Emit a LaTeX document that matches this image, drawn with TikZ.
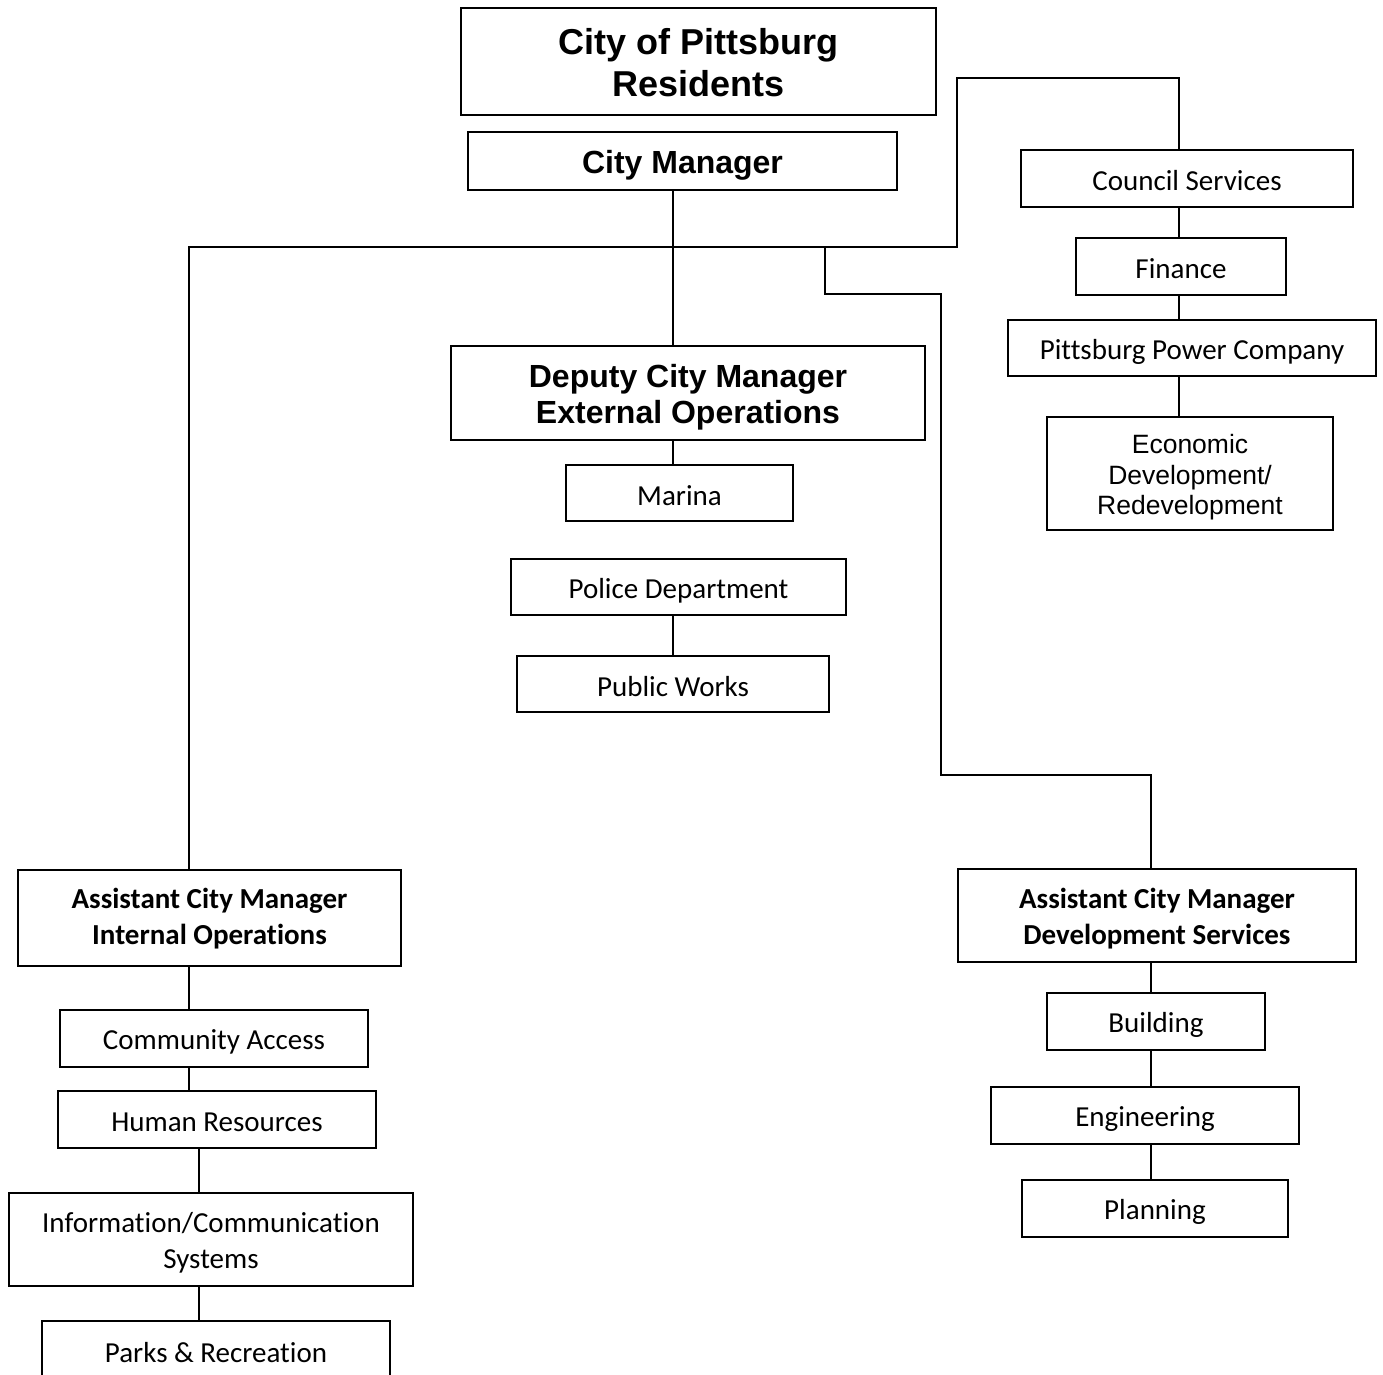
\documentclass[tikz,border=0pt]{standalone}
\usepackage{fontspec}
\setmainfont{Carlito}[Ligatures=NoCommon]
\newfontfamily\arialf{Liberation Sans}
\newcommand\droptext[2]{\raisebox{-#1pt}[\height][\depth]{\begin{tabular}{@{}c@{}}#2\end{tabular}}}
\begin{document}
\begin{tikzpicture}[x=1pt,y=-1pt,line width=1.7pt,
  box/.style={draw,inner sep=0pt,outer sep=0pt,align=center,font=\fontsize{29}{36}\selectfont},
  bigtitle/.style={box,font=\arialf\bfseries\fontsize{36}{42}\selectfont},
  midtitle/.style={box,font=\arialf\bfseries\fontsize{32}{36}\selectfont},
  acm/.style={box,font=\bfseries\fontsize{29}{36}\selectfont},
  arialbox/.style={box,font=\arialf\fontsize{26.5}{30.5}\selectfont},
  link/.style={draw,line width=1.7pt}]
\useasboundingbox (0,0) rectangle (1383,1374);
\fill[white] (0,0) rectangle (1383,1374);
\clip (0,0) rectangle (1383,1374);
% boxes
\node[bigtitle,minimum width=475,minimum height=107] (res) at (698.5,61.5) {\droptext{5.5}{City of Pittsburg\\Residents}};
\node[midtitle,minimum width=429,minimum height=58] (cm) at (682.5,161) {\droptext{5}{City Manager}};
\node[midtitle,minimum width=474,minimum height=94] (dep) at (688,393) {\droptext{5}{Deputy City Manager\\External Operations}};
\node[box,minimum width=227,minimum height=56] (marina) at (679.5,493) {\droptext{5}{Marina}};
\node[box,minimum width=335,minimum height=56] (police) at (678.5,587) {\droptext{4}{Police Department}};
\node[box,minimum width=312,minimum height=56] (pw) at (673,684) {\droptext{5}{Public Works}};
\node[box,minimum width=332,minimum height=57] (council) at (1187,178.5) {\droptext{4.5}{Council Services}};
\node[box,minimum width=210,minimum height=57] (fin) at (1181,266.5) {\droptext{4.5}{Finance}};
\node[box,minimum width=368,minimum height=56] (ppc) at (1192,348) {\droptext{4}{Pittsburg Power Company}};
\node[arialbox,minimum width=286,minimum height=113] (econ) at (1190,473.5) {\droptext{4.5}{Economic\\Development/\\Redevelopment}};
\node[acm,minimum width=383,minimum height=96] (acmi) at (209.5,918) {\droptext{1.5}{Assistant City Manager\\Internal Operations}};
\node[box,minimum width=308,minimum height=57] (ca) at (214,1038.5) {\droptext{3.5}{Community Access}};
\node[box,minimum width=318,minimum height=57] (hr) at (217,1119.5) {\droptext{5}{Human Resources}};
\node[box,minimum width=404,minimum height=93] (ics) at (211,1239.5) {\droptext{3.3}{Information/Communication\\Systems}};
\node[box,minimum width=348,minimum height=60] (parks) at (216,1351) {\droptext{4}{Parks \& Recreation}};
\node[acm,minimum width=398,minimum height=93] (acmd) at (1157,915.5) {\droptext{3.3}{Assistant City Manager\\Development Services}};
\node[box,minimum width=218,minimum height=57] (bld) at (1156,1021.5) {\droptext{4}{Building}};
\node[box,minimum width=308,minimum height=57] (eng) at (1145,1115.5) {\droptext{3.5}{Engineering}};
\node[box,minimum width=266,minimum height=57] (plan) at (1155,1208.5) {\droptext{3.5}{Planning}};
% routing points
\coordinate (cx) at (673,247);
\coordinate (hl) at (189,247);
\coordinate (hrt) at (957,247);
\coordinate (cs) at (1179,78);
\coordinate (b1) at (825,247);
\coordinate (b2) at (941,294);
\coordinate (b3) at (1151,775);
\coordinate (lx) at (199,1000);
% connectors
\draw[link] (cm.south -| cx) -- (dep.north -| cx);
\draw[link] (acmi.north -| hl) -- (hl) -- (hrt) |- (cs) -- (council.north -| cs);
\draw[link] (b1) |- (b2) |- (b3) -- (acmd.north -| b3);
\draw[link] (dep.south -| cx) -- (marina.north -| cx);
\draw[link] (police.south -| cx) -- (pw.north -| cx);
\draw[link] (council.south -| cs) -- (fin.north -| cs);
\draw[link] (fin.south -| cs) -- (ppc.north -| cs);
\draw[link] (ppc.south -| cs) -- (econ.north -| cs);
\draw[link] (acmi.south -| hl) -- (ca.north -| hl);
\draw[link] (ca.south -| hl) -- (hr.north -| hl);
\draw[link] (hr.south -| lx) -- (ics.north -| lx);
\draw[link] (ics.south -| lx) -- (parks.north -| lx);
\draw[link] (acmd.south -| b3) -- (bld.north -| b3);
\draw[link] (bld.south -| b3) -- (eng.north -| b3);
\draw[link] (eng.south -| b3) -- (plan.north -| b3);
\end{tikzpicture}
\end{document}
